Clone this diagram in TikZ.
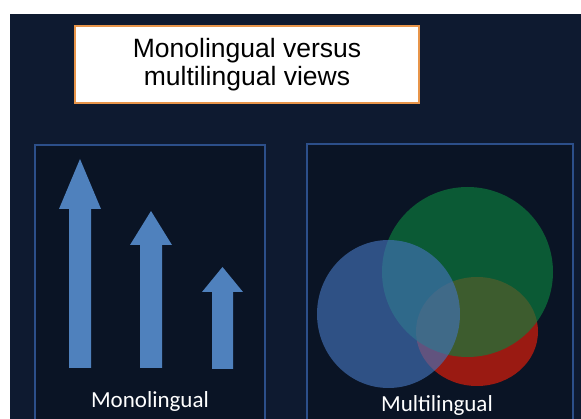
\documentclass[tikz,border=0pt]{standalone}
\usepackage{fontspec}
\setmainfont{Liberation Sans}
\newfontfamily\labelfont{Carlito}
\usepackage{tikz}

\definecolor{slidebg}{HTML}{0E1A30}
\definecolor{panelbg}{HTML}{0A1425}
\definecolor{panelline}{HTML}{2C4F8A}
\definecolor{arrowblue}{HTML}{4F81BD}
\definecolor{titleline}{HTML}{E8954A}
\definecolor{setblue}{HTML}{4372B9}
\definecolor{setgreen}{HTML}{0C803E}
\definecolor{setred}{HTML}{9A1A12}

\tikzset{
    panel/.style={fill=panelbg, draw=panelline, line width=1.5pt},
    titlebox/.style={draw=titleline, fill=white, line width=1.2pt, minimum width=344pt,
        minimum height=77pt, align=center, font=\fontsize{26.5}{28}\selectfont, text=black},
    panellabel/.style={text=white, font=\labelfont\fontsize{23}{25}\selectfont, anchor=base},
}

\begin{document}
\begin{tikzpicture}[x=1pt, y=-1pt]
        \useasboundingbox (0,0) rectangle (581,419);
        \fill[white] (0,0) rectangle (581,419);
        \fill[slidebg] (10,14) rectangle (581,419);

        % title
        \node[titlebox] (title) at (247,64.5) {Monolingual versus\\multilingual views};

        % the two panels
        \draw[panel] (35,425) |- (265,145) -- (265,425);
        \draw[panel] (307,425) |- (573,144) -- (573,425);

        % monolingual: three arrows (x, tip, head base, bottom, head, shaft)
        \foreach \x/\tip/\hb/\bot/\hw/\sw in {80/159/209/368/21/11, 151/211/245/368/21/11, 222.5/267/292/369/20.5/10.5}
            \fill[arrowblue] (\x,\tip) -- (\x+\hw,\hb) -- (\x+\sw,\hb) -- (\x+\sw,\bot)
                -- (\x-\sw,\bot) -- (\x-\sw,\hb) -- (\x-\hw,\hb) -- cycle;

        \node[panellabel] (mono) at (150,408) {Monolingual};

        % multilingual: overlapping sets
        \fill[setred] (477,331.5) ellipse [x radius=61, y radius=54.5];
        \fill[setgreen, opacity=0.65] (467.5,272) ellipse [x radius=85.5, y radius=85];
        \fill[setblue, opacity=0.65] (388.5,314) ellipse [x radius=71.5, y radius=74];

        \node[panellabel] (multi) at (437,412) {Multilingual};
    \end{tikzpicture}
\end{document}
